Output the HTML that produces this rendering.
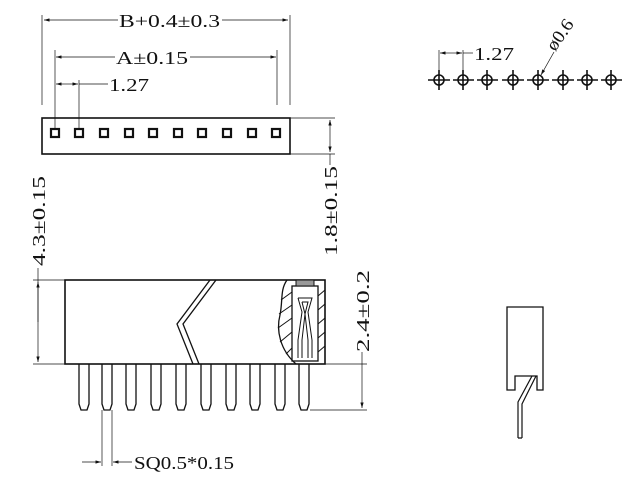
<!DOCTYPE html>
<html><head><style>
html,body{margin:0;padding:0;background:#fff;}
svg{display:block;}
text{font-family:"Liberation Serif","DejaVu Serif",serif;font-size:18px;fill:#111;}
</style></head><body>
<svg width="632" height="497" viewBox="0 0 632 497" xmlns="http://www.w3.org/2000/svg">
<defs>
<marker id="a" viewBox="0 0 10 6" refX="10" refY="3" markerWidth="8" markerHeight="5" orient="auto-start-reverse"><path d="M0,0L10,3L0,6z" fill="#111"/></marker>
</defs>
<g stroke="#111" fill="none" stroke-width="1">
<line x1="42" y1="15" x2="42" y2="105" stroke-width="0.7"/>
<line x1="290" y1="15" x2="290" y2="105" stroke-width="0.7"/>
<line x1="44" y1="20" x2="118" y2="20" marker-start="url(#a)" stroke-width="0.7"/>
<line x1="222" y1="20" x2="288" y2="20" marker-end="url(#a)" stroke-width="0.7"/>
<line x1="55" y1="50" x2="55" y2="128" stroke-width="0.7"/>
<line x1="277" y1="50" x2="277" y2="105" stroke-width="0.7"/>
<line x1="56" y1="57" x2="115" y2="57" marker-start="url(#a)" stroke-width="0.7"/>
<line x1="190" y1="57" x2="276" y2="57" marker-end="url(#a)" stroke-width="0.7"/>
<line x1="79" y1="80" x2="79" y2="128" stroke-width="0.7"/>
<line x1="56" y1="84" x2="67" y2="84" marker-start="url(#a)" stroke-width="0.7"/>
<line x1="67" y1="84" x2="78" y2="84" marker-end="url(#a)" stroke-width="0.7"/>
<line x1="79" y1="84" x2="108" y2="84" stroke-width="0.7"/>
<rect x="42" y="118" width="248" height="36" stroke-width="1.6"/>
<g stroke-width="2.2">
<rect x="51" y="129" width="8" height="8"/><rect x="75" y="129" width="8" height="8"/><rect x="100" y="129" width="8" height="8"/><rect x="125" y="129" width="8" height="8"/><rect x="149" y="129" width="8" height="8"/><rect x="174" y="129" width="8" height="8"/><rect x="198" y="129" width="8" height="8"/><rect x="223" y="129" width="8" height="8"/><rect x="248" y="129" width="8" height="8"/><rect x="272" y="129" width="8" height="8"/>
</g>
<line x1="290" y1="118" x2="335" y2="118" stroke-width="0.7"/>
<line x1="290" y1="154" x2="335" y2="154" stroke-width="0.7"/>
<line x1="330" y1="120" x2="330" y2="136" marker-start="url(#a)" stroke-width="0.7"/>
<line x1="330" y1="136" x2="330" y2="152" marker-end="url(#a)" stroke-width="0.7"/>
<line x1="330" y1="154" x2="330" y2="165" stroke-width="0.7"/>
<line x1="33" y1="280" x2="65" y2="280" stroke-width="0.7"/>
<line x1="33" y1="364" x2="65" y2="364" stroke-width="0.7"/>
<line x1="38" y1="268" x2="38" y2="362" marker-end="url(#a)" stroke-width="0.7"/>
<line x1="38" y1="322" x2="38" y2="282" marker-end="url(#a)" stroke-width="0.7"/>
<rect x="65" y="280" width="260" height="84" stroke-width="1.6"/>
<path d="M210,280 L177,324 L193,364 M216,280 L183,324 L199,364" stroke-width="1.3"/>
<path d="M287,280 C280,290 283,300 280,315 C276,330 280,350 296,364" stroke-width="1.3"/>
<g stroke-width="1"><line x1="281" y1="300" x2="292" y2="292"/><line x1="279" y1="314" x2="292" y2="305"/><line x1="278" y1="328" x2="292" y2="318"/><line x1="280" y1="342" x2="292" y2="332"/><line x1="286" y1="354" x2="292" y2="348"/>
<line x1="318" y1="296" x2="325" y2="290"/><line x1="318" y1="310" x2="325" y2="304"/><line x1="318" y1="324" x2="325" y2="318"/><line x1="318" y1="338" x2="325" y2="332"/><line x1="318" y1="352" x2="325" y2="346"/></g>
<rect x="292" y="286" width="26" height="75" stroke-width="1.3"/>
<rect x="296" y="280" width="18" height="6" stroke-width="1" fill="#999"/>
<path d="M298,298 L312,298 L308,312 L312,340 L312,358 M298,298 L302,312 L298,340 L298,358 M302,302 L308,302 L305,314 L308,340 L308,358 M302,302 L305,314 L302,340 L302,358" stroke-width="1"/>
<line x1="325" y1="364" x2="367" y2="364" stroke-width="0.7"/>
<line x1="310" y1="410" x2="367" y2="410" stroke-width="0.7"/>
<line x1="362" y1="352" x2="362" y2="408" marker-end="url(#a)" stroke-width="0.7"/>
<g stroke-width="1.3">
<path d="M79,364 V404 L81,410 H87 L89,404 V364"/>
<path d="M102,364 V404 L104,410 H110 L112,404 V364"/>
<path d="M126,364 V404 L128,410 H134 L136,404 V364"/>
<path d="M151,364 V404 L153,410 H159 L161,404 V364"/>
<path d="M176,364 V404 L178,410 H184 L186,404 V364"/>
<path d="M201,364 V404 L203,410 H209 L211,404 V364"/>
<path d="M226,364 V404 L228,410 H234 L236,404 V364"/>
<path d="M250,364 V404 L252,410 H258 L260,404 V364"/>
<path d="M275,364 V404 L277,410 H283 L285,404 V364"/>
<path d="M299,364 V404 L301,410 H307 L309,404 V364"/>
</g>
<line x1="102" y1="410" x2="102" y2="466" stroke-width="0.7"/>
<line x1="112" y1="410" x2="112" y2="466" stroke-width="0.7"/>
<line x1="82" y1="462" x2="101" y2="462" marker-end="url(#a)" stroke-width="0.7"/>
<line x1="132" y1="462" x2="113" y2="462" marker-end="url(#a)" stroke-width="0.7"/>
<g stroke-width="1.6">
<circle cx="439" cy="80" r="5"/><circle cx="463" cy="80" r="5"/><circle cx="487" cy="80" r="5"/><circle cx="513" cy="80" r="5"/><circle cx="538" cy="80" r="5"/><circle cx="563" cy="80" r="5"/><circle cx="587" cy="80" r="5"/><circle cx="611" cy="80" r="5"/>
<path d="M439,70V90M463,70V90M487,70V90M513,70V90M538,70V90M563,70V90M587,70V90M611,70V90"/>
<path d="M428,80H450M453,80H474M477,80H498M502,80H524M527,80H549M552,80H574M577,80H598M601,80H622"/>
</g>
<line x1="439" y1="50" x2="439" y2="72" stroke-width="0.7"/>
<line x1="463" y1="50" x2="463" y2="72" stroke-width="0.7"/>
<line x1="440" y1="53" x2="451" y2="53" marker-start="url(#a)" stroke-width="0.7"/>
<line x1="451" y1="53" x2="462" y2="53" marker-end="url(#a)" stroke-width="0.7"/>
<line x1="463" y1="53" x2="473" y2="53" stroke-width="0.7"/>
<line x1="554" y1="52" x2="541" y2="75" marker-end="url(#a)" stroke-width="0.7"/>
<path d="M507,307 H543 V390 H537 V376 H515 V390 H507 Z" stroke-width="1.3"/>
<path d="M532,376 L518,402 V438 M536,376 L522,404 V438 M518,438 H522" stroke-width="1.2"/>
</g>
<text x="119" y="27" textLength="101" lengthAdjust="spacingAndGlyphs">B+0.4±0.3</text>
<text x="116" y="64" textLength="72" lengthAdjust="spacingAndGlyphs">A±0.15</text>
<text x="109" y="91" textLength="40" lengthAdjust="spacingAndGlyphs">1.27</text>
<text x="474" y="60" textLength="40" lengthAdjust="spacingAndGlyphs">1.27</text>
<text transform="translate(555,52) rotate(-55)" textLength="34" lengthAdjust="spacingAndGlyphs">ø0.6</text>
<text transform="translate(337,256) rotate(-90)" textLength="90" lengthAdjust="spacingAndGlyphs">1.8±0.15</text>
<text transform="translate(45,266) rotate(-90)" textLength="90" lengthAdjust="spacingAndGlyphs">4.3±0.15</text>
<text transform="translate(369,352) rotate(-90)" textLength="82" lengthAdjust="spacingAndGlyphs">2.4±0.2</text>
<text x="134" y="469" textLength="100" lengthAdjust="spacingAndGlyphs">SQ0.5*0.15</text>
</svg>
</body></html>
